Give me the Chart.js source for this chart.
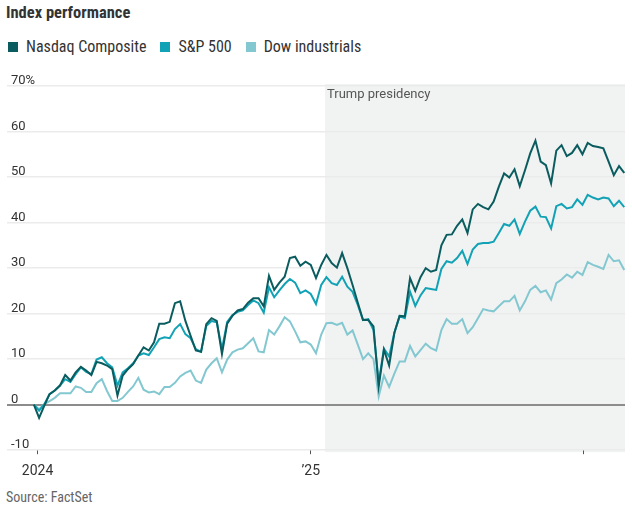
<!DOCTYPE html>
<html>
<head>
<meta charset="utf-8">
<script src="https://cdn.jsdelivr.net/npm/chart.js@4.4.1/dist/chart.umd.min.js"></script>
<style>
  body { margin: 0; background: #fff; font-family: "Liberation Sans Narrow", "Roboto Condensed", Roboto, sans-serif; color: #333; }
  #wrap { position: relative; width: 632px; height: 508px; }
  #title { position: absolute; left: 6px; top: 3px; font-size: 16.5px; font-weight: bold; color: #333; }
  #legend { position: absolute; left: 8px; top: 37px; display: flex; font-size: 16px; color: #333; }
  #legend span.item { display: flex; align-items: center; margin-right: 14px; }
  #legend span.sw { width: 10px; height: 10px; margin-right: 8px; display: inline-block; }
  #box { position: absolute; left: 0; top: 64px; width: 632px; height: 425px; }
  #source { position: absolute; left: 6px; top: 489px; font-size: 14px; color: #666; }
</style>
</head>
<body>
<div id="wrap">
  <div id="title">Index performance</div>
  <div id="legend"></div>
  <div id="box"><canvas id="chart"></canvas></div>
  <div id="source">Source: FactSet</div>
</div>
<script>
// weekly % change since end of 2023
const seriesNames = ["Nasdaq Composite", "S&P 500", "Dow industrials"];
const seriesColors = ["#0a5c5f", "#12a2b5", "#83c8d1"];

const nasdaq = [0, -2.9, -0.2, 2.3, 3.1, 4.2, 6.5, 5.3, 7.1, 8.3, 7.5, 6.5, 9.4, 9.1, 8.6, 7.8, 2.0, 6.4, 7.8, 8.9,
  10.8, 12.6, 11.9, 13.7, 17.8, 17.8, 18.2, 22.3, 22.7, 18.4, 15.1, 11.9, 11.6, 17.7, 19.0, 18.4, 11.1, 17.8, 19.5, 20.7,
  21.0, 22.4, 23.4, 23.4, 21.6, 28.3, 25.2, 26.8, 28.1, 32.2, 32.5, 30.5, 31.4, 30.7, 27.8, 30.7, 32.9, 31.1, 30.1, 33.3,
  30.0, 26.3, 22.4, 18.6, 18.6, 17.2, 4.0, 12.1, 8.6, 15.8, 19.5, 19.4, 27.8, 25.0, 28.0, 30.0, 29.2, 29.6, 35.0, 37.3,
  37.4, 39.3, 40.7, 37.7, 42.9, 44.1, 43.4, 42.9, 44.6, 47.9, 50.8, 49.9, 51.7, 48.0, 51.5, 55.2, 58.0, 53.4, 52.6, 48.6,
  55.8, 57.0, 54.6, 55.3, 57.0, 55.0, 57.5, 56.8, 56.6, 56.3, 53.4, 50.4, 52.4, 50.9];

const sp500 = [0, -1.3, 0.1, 2.3, 3.1, 4.2, 5.6, 5.0, 6.7, 8.2, 7.2, 6.7, 9.9, 10.4, 9.1, 8.2, 4.2, 7.1, 8.0, 9.1,
  10.8, 11.3, 10.9, 12.6, 14.4, 14.8, 14.6, 16.6, 17.7, 15.5, 14.6, 12.2, 11.6, 17.3, 18.4, 18.1, 12.2, 18.2, 19.7, 20.4,
  20.7, 21.9, 22.9, 22.3, 20.2, 25.8, 23.6, 25.1, 26.5, 27.6, 26.8, 24.5, 25.1, 24.3, 22.1, 26.3, 28.0, 26.7, 26.3, 28.1,
  25.9, 24.8, 21.9, 18.6, 18.8, 16.4, 4.8, 12.3, 10.6, 15.8, 19.4, 19.0, 24.8, 21.7, 24.0, 25.6, 25.4, 25.2, 29.8, 31.5,
  31.2, 32.2, 33.8, 30.9, 34.1, 35.3, 35.5, 35.5, 35.8, 37.7, 39.7, 39.3, 40.7, 37.5, 40.2, 42.6, 43.5, 41.3, 41.2, 38.7,
  43.6, 44.1, 43.1, 43.4, 45.1, 43.9, 46.1, 45.5, 45.1, 45.5, 45.3, 43.6, 44.8, 43.4];

const dow = [0, -1.0, 0.1, 0.8, 1.5, 2.5, 2.5, 2.5, 4.0, 3.7, 2.8, 2.8, 4.7, 5.6, 3.0, 0.8, 0.8, 1.5, 2.8, 4.0,
  5.9, 3.3, 2.7, 2.9, 2.3, 3.9, 3.9, 4.8, 6.2, 7.0, 7.5, 5.3, 4.8, 7.7, 9.1, 10.2, 7.1, 9.9, 11.5, 12.1,
  12.4, 13.5, 14.6, 11.7, 11.5, 16.4, 15.4, 17.2, 19.2, 18.3, 16.1, 13.7, 13.9, 13.2, 11.3, 15.4, 17.9, 18.0, 17.5, 18.0,
  15.4, 16.3, 13.2, 10.0, 11.3, 10.0, 1.8, 6.4, 3.9, 6.8, 9.5, 9.5, 12.9, 10.6, 12.0, 13.4, 12.4, 11.9, 16.4, 18.8,
  17.8, 17.8, 18.8, 15.7, 17.0, 19.0, 21.0, 20.7, 20.5, 21.6, 22.7, 22.7, 23.9, 20.7, 22.7, 25.2, 26.1, 24.7, 25.1, 23.1,
  26.7, 27.5, 28.6, 27.9, 29.2, 28.5, 31.3, 30.7, 30.3, 29.8, 32.9, 31.5, 31.7, 29.6];

// x axis in days from Jan 1 2024; first point is the last week of 2023
const firstDay = -5;
const weekDays = nasdaq.map((_, i) => firstDay + 7 * i);
const yearTicks = [0, 366, 731];
const yearLabels = ["2024", "\u201925", ""];
const inaugurationDay = 385; // Jan 20 2025
const yTicks = [-10, 0, 10, 20, 30, 40, 50, 60, 70];

const legend = document.getElementById("legend");
seriesNames.forEach((n, i) => {
  legend.innerHTML += '<span class="item"><span class="sw" style="background:' + seriesColors[i] + '"></span>' + n + '</span>';
});

const shade = {
  id: "shade",
  beforeDraw(chart) {
    const { ctx, chartArea, scales } = chart;
    const x0 = scales.x.getPixelForValue(inaugurationDay);
    ctx.save();
    ctx.fillStyle = "#f1f2f2";
    ctx.fillRect(x0, chartArea.top - 2, chartArea.right - x0, chartArea.bottom - chartArea.top + 4);
    ctx.fillStyle = "#555";
    ctx.font = "13px 'Liberation Sans Narrow', Roboto, sans-serif";
    ctx.textBaseline = "top";
    ctx.fillText("Trump presidency", x0 + 2, chartArea.top + 2);
    ctx.restore();
  }
};

const toXY = (arr) => arr.map((v, i) => ({ x: weekDays[i], y: v }));

new Chart(document.getElementById("chart"), {
  type: "line",
  data: {
    datasets: [nasdaq, sp500, dow].map((arr, i) => ({
      label: seriesNames[i],
      data: toXY(arr),
      borderColor: seriesColors[i],
      borderWidth: 2,
      pointRadius: 0,
      tension: 0,
      fill: false
    }))
  },
  options: {
    responsive: true,
    maintainAspectRatio: false,
    animation: false,
    layout: { padding: { left: -1, right: 7, top: 22, bottom: 0 } },
    plugins: { legend: { display: false }, tooltip: { enabled: false } },
    scales: {
      x: {
        type: "linear",
        min: -41,
        max: 787,
        afterBuildTicks: (axis) => { axis.ticks = yearTicks.map(v => ({ value: v })); },
        ticks: {
          autoSkip: false,
          maxRotation: 0,
          color: "#333",
          font: { size: 14, family: "'Liberation Sans Narrow', Roboto, sans-serif" },
          padding: 9,
          callback: (v) => yearLabels[yearTicks.indexOf(v)]
        },
        grid: { drawOnChartArea: false, drawTicks: true, tickLength: 4, color: "#555", lineWidth: 1 },
        border: { display: false }
      },
      y: {
        min: -10,
        max: 70,
        afterBuildTicks: (axis) => { axis.ticks = yTicks.map(v => ({ value: v })); },
        ticks: {
          mirror: true,
          padding: 4,
          labelOffset: -5,
          color: "#333",
          font: { size: 13, family: "'Liberation Sans Narrow', Roboto, sans-serif" },
          callback: (v) => v === 70 ? "70%" : String(v)
        },
        grid: {
          drawTicks: false,
          color: (c) => c.tick && c.tick.value === 0 ? "#8c8c8c" : "#ebebeb",
          lineWidth: (c) => c.tick && c.tick.value === 0 ? 2 : 1.5
        },
        border: { display: false }
      }
    }
  },
  plugins: [shade]
});
</script>
</body>
</html>
